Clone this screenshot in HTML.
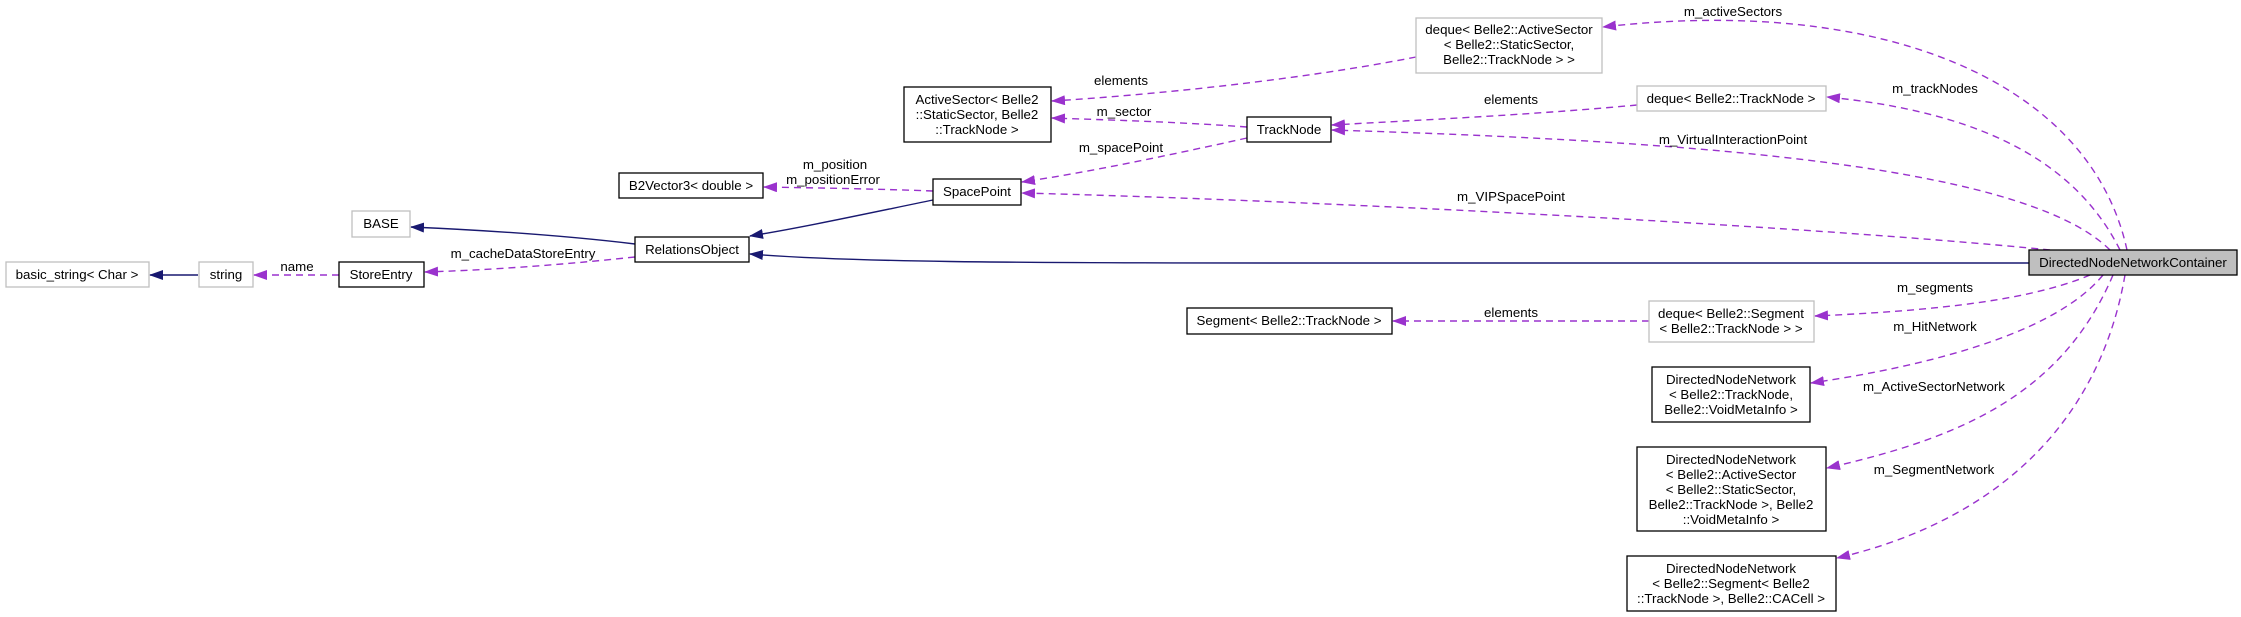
<!DOCTYPE html>
<html><head><meta charset="utf-8"><style>
html,body{margin:0;padding:0;background:#fff;}
svg{display:block;}
text{font-family:"Liberation Sans",Arial,sans-serif;font-size:13.3px;fill:#000;}
</style></head><body>
<svg width="2241" height="617" viewBox="0 0 2241 617" xmlns="http://www.w3.org/2000/svg">
<defs>
<marker id="ap" markerWidth="14" markerHeight="10" refX="13" refY="5" orient="auto" markerUnits="userSpaceOnUse"><path d="M0,0 L14,5 L0,10 z" fill="#9a32cd"/></marker>
<marker id="an" markerWidth="14" markerHeight="10" refX="13" refY="5" orient="auto" markerUnits="userSpaceOnUse"><path d="M0,0 L14,5 L0,10 z" fill="#191970"/></marker>
</defs>
<g fill="none" stroke="#9a32cd" stroke-width="1.4" stroke-dasharray="7,5">
<path d="M2127,250 C2090,80 1880,-5 1603,27" marker-end="url(#ap)"/>
<path d="M2120,250 C2070,150 1960,110 1827,97" marker-end="url(#ap)"/>
<path d="M2110,250 C2020,160 1650,140 1332,130" marker-end="url(#ap)"/>
<path d="M2050,250 C1800,225 1300,200 1022,193" marker-end="url(#ap)"/>
<path d="M2090,275 C2020,305 1900,312 1815,316" marker-end="url(#ap)"/>
<path d="M2103,275 C2050,340 1900,370 1811,383" marker-end="url(#ap)"/>
<path d="M2113,275 C2060,400 1950,440 1827,468" marker-end="url(#ap)"/>
<path d="M2125,275 C2100,420 2000,520 1837,558" marker-end="url(#ap)"/>
<path d="M1416,57 C1300,80 1150,95 1052,101" marker-end="url(#ap)"/>
<path d="M1247,127 C1180,122 1110,120 1052,118" marker-end="url(#ap)"/>
<path d="M1637,105 C1530,115 1420,120 1332,125" marker-end="url(#ap)"/>
<path d="M1247,138 C1170,155 1090,172 1022,182" marker-end="url(#ap)"/>
<path d="M933,191 C880,189 820,188 764,187" marker-end="url(#ap)"/>
<path d="M635,257 C560,265 490,270 425,272" marker-end="url(#ap)"/>
<path d="M339,275 L254,275" marker-end="url(#ap)"/>
<path d="M1649,321 L1393,321" marker-end="url(#ap)"/>
</g>
<g fill="none" stroke="#191970" stroke-width="1.4">
<path d="M2029,263 L1300,263 C1000,263 850,262 750,254" marker-end="url(#an)"/>
<path d="M933,200 C860,215 800,228 750,236" marker-end="url(#an)"/>
<path d="M635,244 C560,235 480,230 411,227" marker-end="url(#an)"/>
<path d="M198,275 L150,275" marker-end="url(#an)"/>
</g>
<g stroke-width="1.3">
<rect x="6" y="262" width="143" height="25" fill="#fff" stroke="#bfbfbf"/>
<rect x="199" y="262" width="54" height="25" fill="#fff" stroke="#bfbfbf"/>
<rect x="339" y="262" width="85" height="25" fill="#fff" stroke="#000"/>
<rect x="352" y="211" width="58" height="26" fill="#fff" stroke="#bfbfbf"/>
<rect x="635" y="237" width="114" height="25" fill="#fff" stroke="#000"/>
<rect x="619" y="173" width="144" height="25" fill="#fff" stroke="#000"/>
<rect x="933" y="179" width="88" height="26" fill="#fff" stroke="#000"/>
<rect x="904" y="87" width="147" height="55" fill="#fff" stroke="#000"/>
<rect x="1416" y="18" width="186" height="55" fill="#fff" stroke="#bfbfbf"/>
<rect x="1637" y="86" width="189" height="25" fill="#fff" stroke="#bfbfbf"/>
<rect x="1247" y="117" width="84" height="25" fill="#fff" stroke="#000"/>
<rect x="2029" y="250" width="208" height="25" fill="#bfbfbf" stroke="#000"/>
<rect x="1187" y="308" width="205" height="26" fill="#fff" stroke="#000"/>
<rect x="1649" y="301" width="165" height="41" fill="#fff" stroke="#bfbfbf"/>
<rect x="1652" y="367" width="158" height="55" fill="#fff" stroke="#000"/>
<rect x="1637" y="447" width="189" height="84" fill="#fff" stroke="#000"/>
<rect x="1627" y="556" width="209" height="55" fill="#fff" stroke="#000"/>
</g>
<g text-anchor="middle">
<text x="77" y="279">basic_string&lt; Char &gt;</text>
<text x="226" y="279">string</text>
<text x="381" y="279">StoreEntry</text>
<text x="381" y="228">BASE</text>
<text x="692" y="254">RelationsObject</text>
<text x="691" y="190">B2Vector3&lt; double &gt;</text>
<text x="977" y="196">SpacePoint</text>
<text x="977" y="104">ActiveSector&lt; Belle2</text>
<text x="977" y="119">::StaticSector, Belle2</text>
<text x="977" y="134">::TrackNode &gt;</text>
<text x="1509" y="34">deque&lt; Belle2::ActiveSector</text>
<text x="1509" y="49">&lt; Belle2::StaticSector,</text>
<text x="1509" y="64">Belle2::TrackNode &gt; &gt;</text>
<text x="1731" y="103">deque&lt; Belle2::TrackNode &gt;</text>
<text x="1289" y="134">TrackNode</text>
<text x="2133" y="267">DirectedNodeNetworkContainer</text>
<text x="1289" y="325">Segment&lt; Belle2::TrackNode &gt;</text>
<text x="1731" y="318">deque&lt; Belle2::Segment</text>
<text x="1731" y="333">&lt; Belle2::TrackNode &gt; &gt;</text>
<text x="1731" y="384">DirectedNodeNetwork</text>
<text x="1731" y="399">&lt; Belle2::TrackNode,</text>
<text x="1731" y="414">Belle2::VoidMetaInfo &gt;</text>
<text x="1731" y="464">DirectedNodeNetwork</text>
<text x="1731" y="479">&lt; Belle2::ActiveSector</text>
<text x="1731" y="494">&lt; Belle2::StaticSector,</text>
<text x="1731" y="509">Belle2::TrackNode &gt;, Belle2</text>
<text x="1731" y="524">::VoidMetaInfo &gt;</text>
<text x="1731" y="573">DirectedNodeNetwork</text>
<text x="1731" y="588">&lt; Belle2::Segment&lt; Belle2</text>
<text x="1731" y="603">::TrackNode &gt;, Belle2::CACell &gt;</text>
<text x="297" y="271">name</text>
<text x="523" y="258">m_cacheDataStoreEntry</text>
<text x="835" y="169">m_position</text>
<text x="833" y="184">m_positionError</text>
<text x="1121" y="85">elements</text>
<text x="1124" y="116">m_sector</text>
<text x="1121" y="152">m_spacePoint</text>
<text x="1511" y="104">elements</text>
<text x="1733" y="16">m_activeSectors</text>
<text x="1935" y="93">m_trackNodes</text>
<text x="1733" y="144">m_VirtualInteractionPoint</text>
<text x="1511" y="201">m_VIPSpacePoint</text>
<text x="1935" y="292">m_segments</text>
<text x="1511" y="317">elements</text>
<text x="1935" y="331">m_HitNetwork</text>
<text x="1934" y="391">m_ActiveSectorNetwork</text>
<text x="1934" y="474">m_SegmentNetwork</text>
</g>
</svg>
</body></html>
